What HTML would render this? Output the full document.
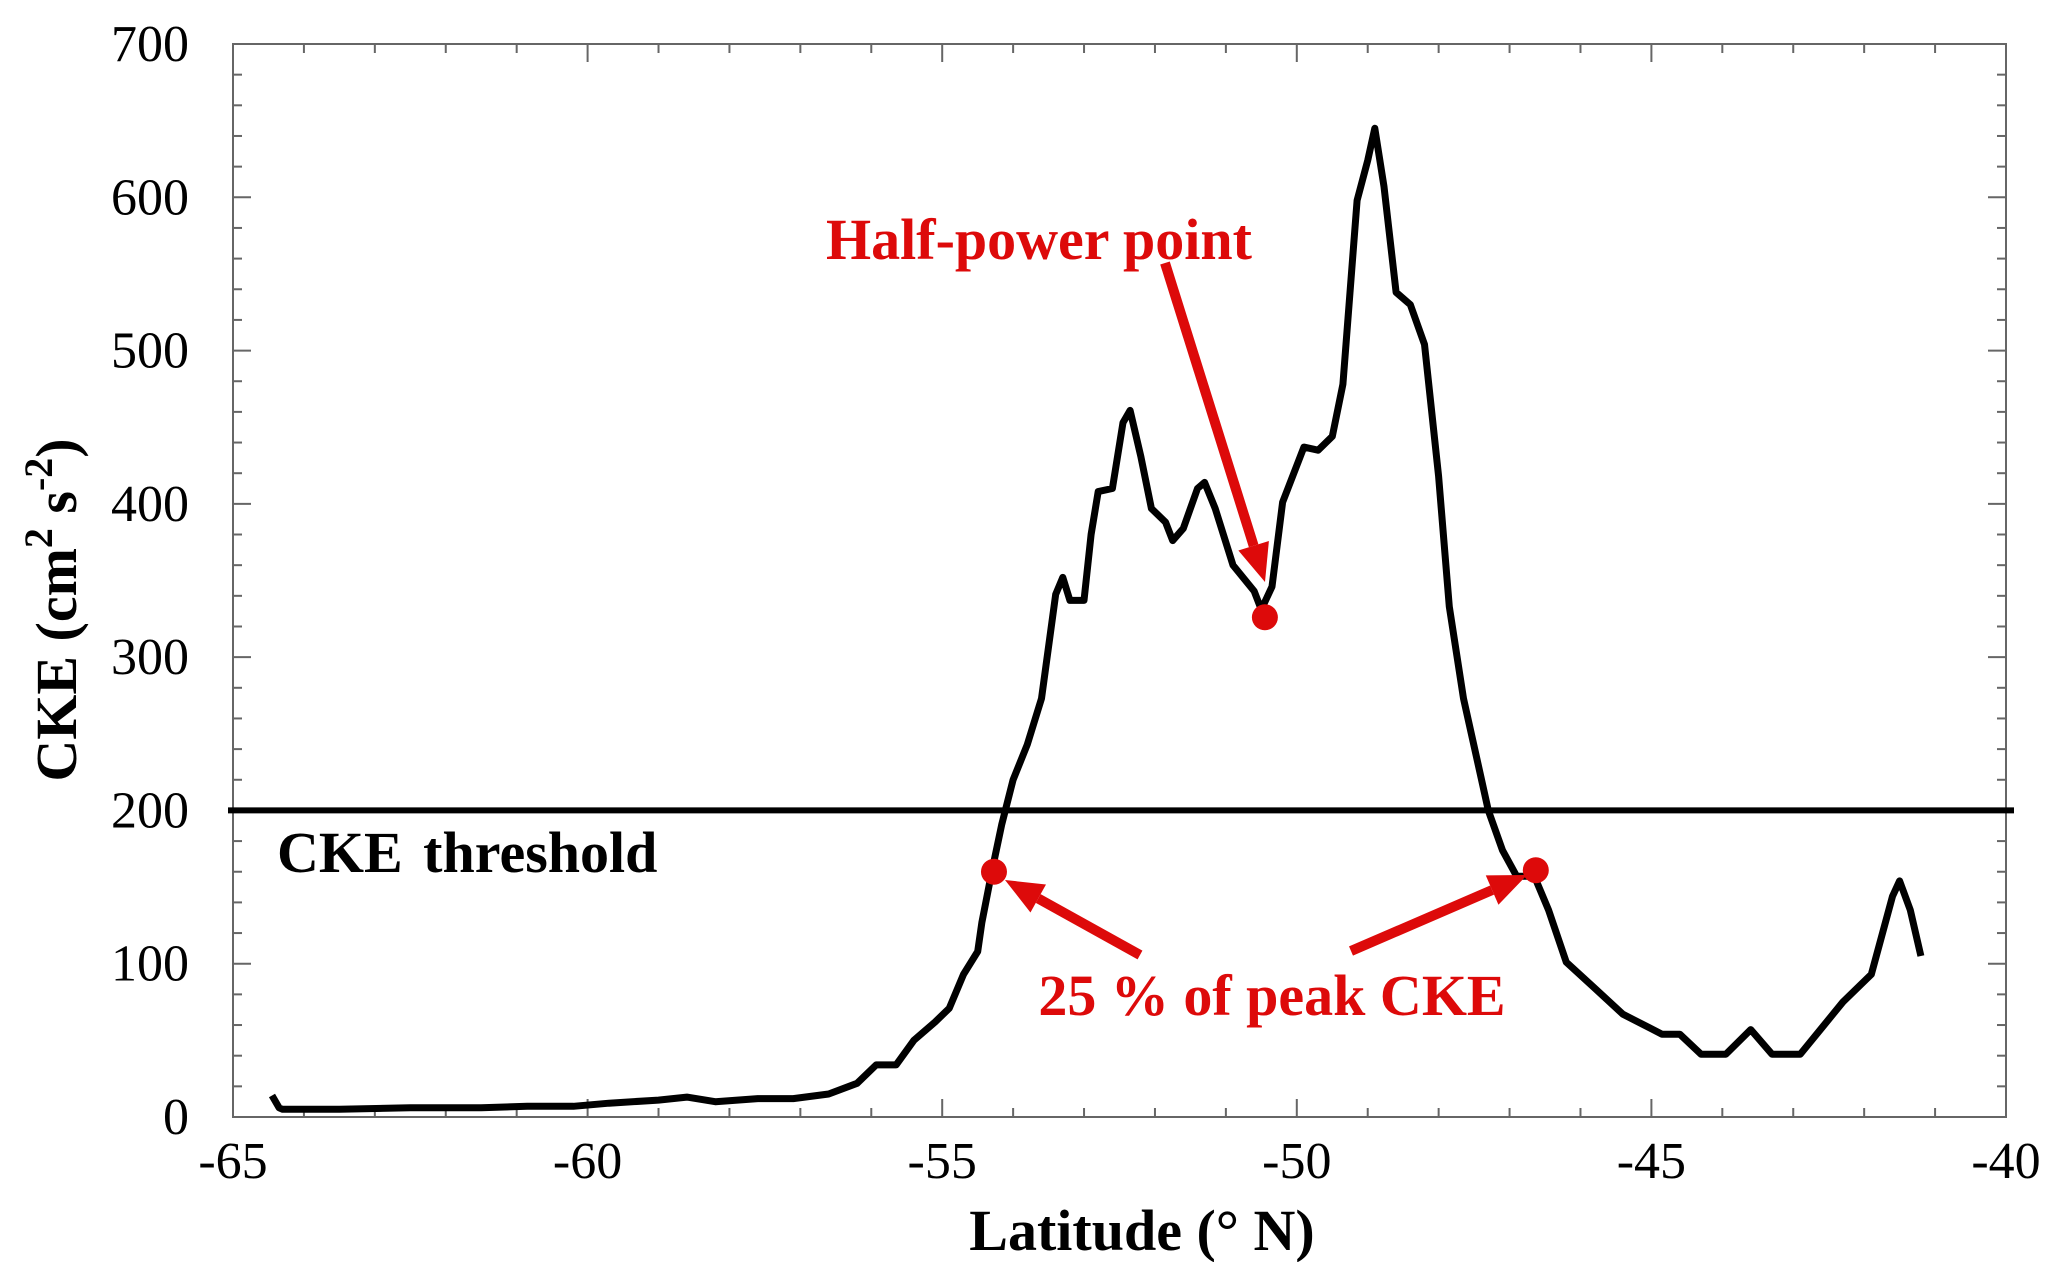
<!DOCTYPE html>
<html><head><meta charset="utf-8"><style>
html,body{margin:0;padding:0;background:#fff;}
svg{display:block;}
text{font-family:"Liberation Serif",serif;}
</style></head><body>
<svg id="chart" width="2067" height="1262" viewBox="0 0 2067 1262" xmlns="http://www.w3.org/2000/svg">
<g id="axes"></g>
<g id="series"></g>
<g id="annot"></g>
</svg>
<script>
const latitudes = [-64.45,-64.35,-64.3,-63.5,-62.5,-61.5,-60.85,-60.2,-59.7,-59.0,-58.6,-58.2,-57.6,-57.1,-56.6,-56.2,-55.93,-55.65,-55.4,-55.1,-54.9,-54.7,-54.5,-54.44,-54.3,-54.16,-54.0,-53.8,-53.6,-53.4,-53.3,-53.2,-53.0,-52.9,-52.8,-52.6,-52.45,-52.35,-52.2,-52.05,-51.85,-51.75,-51.6,-51.4,-51.3,-51.15,-50.9,-50.6,-50.5,-50.35,-50.2,-49.9,-49.7,-49.5,-49.35,-49.15,-49.0,-48.9,-48.77,-48.6,-48.4,-48.2,-48.0,-47.85,-47.65,-47.4,-47.3,-47.1,-46.9,-46.65,-46.45,-46.2,-45.8,-45.4,-44.85,-44.6,-44.3,-43.95,-43.6,-43.3,-42.9,-42.6,-42.3,-41.9,-41.6,-41.5,-41.35,-41.2];
const ckeValues = [14,6,5,5,6,6,7,7,9,11,13,10,12,12,15,22,34,34,50,62,71,93,108,127,160,191,220,243,273,341,352,337,337,380,408,410,453,461,431,397,388,376,384,410,414,397,360,343,331,346,401,437,435,444,478,598,624,645,607,538,530,504,418,333,273,221,200,174,157,157,135,101,84,67,54,54,41,41,57,41,41,58,75,93,144,154,135,105];
const xTicks = [-65,-60,-55,-50,-45,-40];
const yTicks = [0,100,200,300,400,500,600,700];
const thresholdValue = [200];
const markerLat = [-50.45,-54.27,-46.63];
const markerCke = [326,160,161];

const NS="http://www.w3.org/2000/svg";
const L=233,R=2006,T=44,B=1117;
const xs=v=>L+(v+65)/25*(R-L);
const ys=v=>B-v/700*(B-T);
function mk(tag,attrs,parent,txt){const e=document.createElementNS(NS,tag);for(const k in attrs)e.setAttribute(k,attrs[k]);if(txt!==undefined)e.textContent=txt;parent.appendChild(e);return e;}
const ax=document.getElementById('axes');
let f=mk('rect',{x:L,y:T,width:R-L,height:B-T,fill:'none',stroke:'#666','stroke-width':2},ax);


for(let v=-65;v<=-40;v++){const x=xs(v);const major=(v%5===0);const len=major?18:9;
 mk('line',{x1:x,y1:B,x2:x,y2:B-len,stroke:'#666','stroke-width':2},ax);
 mk('line',{x1:x,y1:T,x2:x,y2:T+len,stroke:'#666','stroke-width':2},ax);}
for(let v=0;v<=700;v+=20){const y=ys(v);const major=(v%100===0);const len=major?18:9;
 mk('line',{x1:L,y1:y,x2:L+len,y2:y,stroke:'#666','stroke-width':2},ax);
 mk('line',{x1:R,y1:y,x2:R-len,y2:y,stroke:'#666','stroke-width':2},ax);}
xTicks.forEach(v=>{const t=mk('text',{x:xs(v),y:1178,'text-anchor':'middle','font-size':52},ax,String(v));
 
 });
yTicks.forEach(v=>{const t=mk('text',{x:189,y:ys(v)+17,'text-anchor':'end','font-size':52},ax,String(v));
 
 });
let xt=mk('text',{x:1142,y:1250,'text-anchor':'middle','font-size':58,'font-weight':'bold'},ax,'Latitude (° N)');


let yt=mk('text',{x:0,y:0,'text-anchor':'middle','font-size':58,'font-weight':'bold',transform:'translate(76,610) rotate(-90)'},ax);


yt.innerHTML='CKE (cm<tspan dy="-24" font-size="40">2</tspan><tspan dy="24"> s</tspan><tspan dy="-24" font-size="40">-2</tspan><tspan dy="24">)</tspan>';

const sg=document.getElementById('series');
let th=mk('line',{x1:228,x2:R+8,y1:ys(thresholdValue[0]),y2:ys(thresholdValue[0]),stroke:'#000','stroke-width':6},sg);


let d=latitudes.map((v,i)=>(i?'L':'M')+xs(v).toFixed(1)+','+ys(ckeValues[i]).toFixed(1)).join(' ');
let p=mk('path',{d:d,fill:'none',stroke:'#000','stroke-width':7,'stroke-linejoin':'round'},sg);


let tl=mk('text',{x:277,y:872,'font-size':58,'font-weight':'bold','word-spacing':6},sg,'CKE threshold');



const an=document.getElementById('annot');
const red='#dd0a0a';
function arrow(x1,y1,x2,y2,name){const g=mk('g',{},an);
 
 
 const a=Math.atan2(y2-y1,x2-x1),hl=38,hw=16;
 const bx=x2-hl*Math.cos(a),by=y2-hl*Math.sin(a);
 mk('line',{x1:x1,y1:y1,x2:bx,y2:by,stroke:red,'stroke-width':10},g);
 const px=-Math.sin(a)*hw,py=Math.cos(a)*hw;
 mk('polygon',{points:`${x2},${y2} ${bx+px},${by+py} ${bx-px},${by-py}`,fill:red},g);}
markerLat.forEach((v,i)=>{const c=mk('circle',{cx:xs(v),cy:ys(markerCke[i]),r:13,fill:red},an);
 
 });
arrow(1165,263,1265,582,'half-power-arrow');
arrow(1140,955,1005,880,'left-25-arrow');
arrow(1351,951,1527,875,'right-25-arrow');
let h=mk('text',{x:1039,y:259,'text-anchor':'middle','font-size':58,'font-weight':'bold',fill:red},an,'Half-power point');


let q=mk('text',{x:1272,y:1015,'text-anchor':'middle','font-size':58,'font-weight':'bold',fill:red},an,'25 % of peak CKE');


</script>
</body></html>
